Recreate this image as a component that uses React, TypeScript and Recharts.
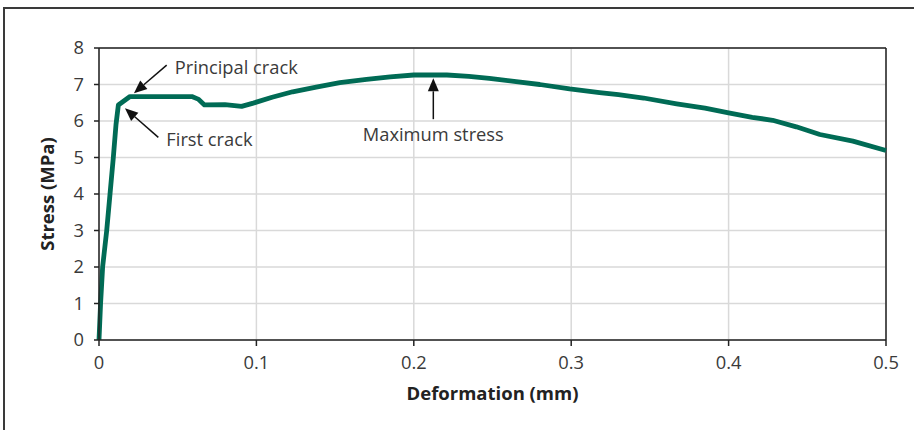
import { LineChart, Line, XAxis, YAxis, CartesianGrid, ReferenceLine } from "recharts";

// stress-deformation curve
const deformation = [
  0, 0.001, 0.0023, 0.0049, 0.007, 0.0091, 0.0108, 0.0123, 0.0197, 0.03, 0.045, 0.059,
  0.063, 0.067, 0.08, 0.0906, 0.098, 0.11, 0.123, 0.138, 0.153, 0.17, 0.185, 0.2,
  0.221, 0.235, 0.248, 0.265, 0.28, 0.299, 0.318, 0.33, 0.346, 0.367, 0.385, 0.4,
  0.415, 0.428, 0.443, 0.458, 0.479, 0.5,
];
const stress = [
  0, 1.0, 2.0, 3.0, 4.0, 5.0, 5.9, 6.44, 6.67, 6.67, 6.67, 6.67,
  6.6, 6.44, 6.45, 6.4, 6.49, 6.65, 6.8, 6.93, 7.05, 7.14, 7.21, 7.26,
  7.26, 7.22, 7.17, 7.08, 7.0, 6.88, 6.78, 6.72, 6.63, 6.47, 6.35, 6.22,
  6.1, 6.02, 5.84, 5.63, 5.45, 5.19,
];

const xTicks = [0, 0.1, 0.2, 0.3, 0.4, 0.5];
const yTicks = [0, 1, 2, 3, 4, 5, 6, 7, 8];

const noteLabels = ["Principal crack", "First crack", "Maximum stress"];
const noteTails = [[0.043, 7.53], [0.0377, 5.55], [0.2124, 6.05]];
const noteTips = [[0.0222, 6.76], [0.0165, 6.35], [0.2124, 7.17]];

const FONT = "'Open Sans', sans-serif";
const TEXT = "#3a3a3a";
const GREEN = "#006b55";

// where the label sits relative to the arrow tail
const labelOffsets = [
  { dx: 8, dy: 1, anchor: "start" },
  { dx: 8, dy: 1, anchor: "start" },
  { dx: 0, dy: 14, anchor: "middle" },
];

const data = deformation.map((d, i) => ({ x: d, y: stress[i] }));

function Arrow(props: any) {
  const { x1, y1, x2, y2, text, dx, dy, anchor } = props;
  const ang = Math.atan2(y2 - y1, x2 - x1);
  const len = 13;
  const half = 5.5;
  const bx = x2 - len * Math.cos(ang);
  const by = y2 - len * Math.sin(ang);
  const px = -Math.sin(ang);
  const py = Math.cos(ang);
  return (
    <g>
      <line x1={x1} y1={y1} x2={bx} y2={by} stroke="#111" strokeWidth={1.5} />
      <polygon
        points={`${x2},${y2} ${bx + px * half},${by + py * half} ${bx - px * half},${by - py * half}`}
        fill="#111"
      />
      <text
        x={x1 + dx}
        y={y1 + dy}
        textAnchor={anchor}
        dominantBaseline="central"
        fill={TEXT}
        fontFamily={FONT}
        fontSize={18.3}
      >
        {text}
      </text>
    </g>
  );
}

export default function App() {
  return (
    <div style={{ position: "fixed", left: 0, top: 0, width: 914, height: 430, overflow: "hidden", background: "#fff" }}>
      <div
        style={{
          position: "absolute",
          left: 3,
          top: 7,
          width: 930,
          height: 450,
          border: "2px solid #3a3a3a",
        }}
      />
      <div style={{ position: "absolute", left: 0, top: 0 }}>
        <LineChart
          width={914}
          height={430}
          data={data}
          margin={{ top: 48, right: 28, left: 29, bottom: 60 }}
        >
          <CartesianGrid stroke="#d9d9d9" strokeWidth={1.5} />
          <XAxis
            dataKey="x"
            type="number"
            domain={[0, 0.5]}
            ticks={xTicks}
            tickFormatter={(v: number) => String(v)}
            stroke="#222"
            strokeWidth={1.5}
            tickSize={6}
            tickMargin={10}
            height={30}
            tick={{ fill: TEXT, fontSize: 18.3, fontFamily: FONT }}
            label={{
              content: ({ viewBox }: any) => (
                <text
                  x={viewBox.x + viewBox.width / 2}
                  y={viewBox.y + 52}
                  textAnchor="middle"
                  dominantBaseline="central"
                  fontFamily={FONT}
                  fontWeight={700}
                  fontSize={18.5}
                  fill="#222"
                >
                  Deformation (mm)
                </text>
              ),
            }}
          />
          <YAxis
            type="number"
            domain={[0, 8]}
            ticks={yTicks}
            stroke="#222"
            strokeWidth={1.5}
            tickSize={5}
            tickMargin={10}
            width={70}
            tick={{ fill: TEXT, fontSize: 18.3, fontFamily: FONT }}
            label={{
              content: ({ viewBox }: any) => {
                const cx = viewBox.x + 17;
                const cy = viewBox.y + viewBox.height / 2;
                return (
                  <text
                    x={cx}
                    y={cy}
                    transform={`rotate(-90 ${cx} ${cy})`}
                    textAnchor="middle"
                    dominantBaseline="central"
                    fontFamily={FONT}
                    fontWeight={700}
                    fontSize={18.5}
                    fill="#222"
                  >
                    Stress (MPa)
                  </text>
                );
              },
            }}
          />
          <ReferenceLine y={8} stroke="#222" strokeWidth={1.5} />
          <ReferenceLine x={0.5} stroke="#222" strokeWidth={1.5} />
          <Line
            dataKey="y"
            type="linear"
            stroke={GREEN}
            strokeWidth={4.8}
            strokeLinejoin="round"
            dot={false}
            isAnimationActive={false}
          />
          {noteLabels.map((t, i) => (
            <ReferenceLine
              key={t}
              segment={[
                { x: noteTails[i][0], y: noteTails[i][1] },
                { x: noteTips[i][0], y: noteTips[i][1] },
              ]}
              shape={(p: any) => <Arrow {...p} text={t} {...labelOffsets[i]} />}
            />
          ))}
        </LineChart>
      </div>
    </div>
  );
}
